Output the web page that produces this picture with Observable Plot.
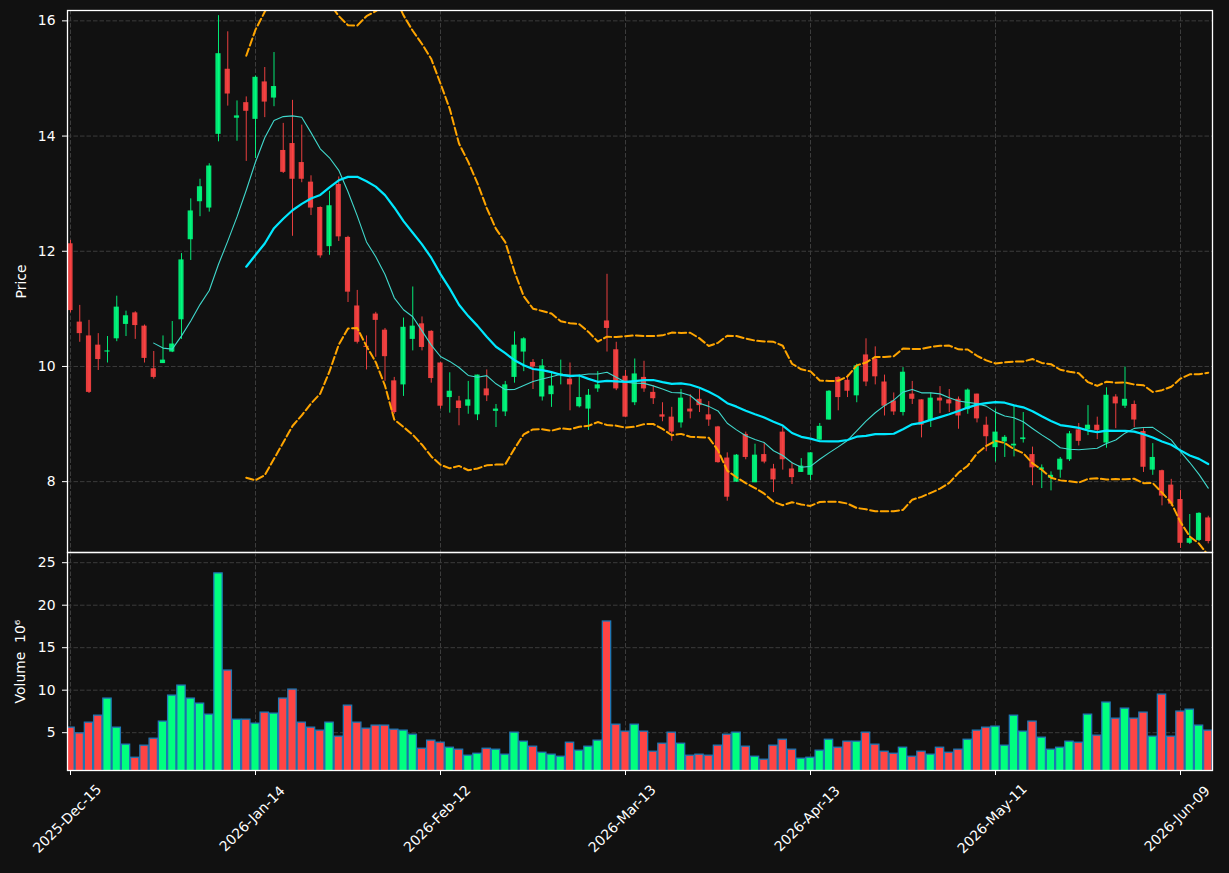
<!DOCTYPE html>
<html>
<head>
<meta charset="utf-8">
<script src="https://cdn.jsdelivr.net/npm/d3@7"></script>
<script src="https://cdn.jsdelivr.net/npm/@observablehq/plot@0.6"></script>
<style>
  html, body { margin: 0; padding: 0; background: #111111; }
  #chart { position: relative; width: 1229px; height: 873px; background: #111111; overflow: hidden; }
  #chart svg { display: block; }
  #chart text { white-space: pre; }
</style>
</head>
<body>
<div id="chart"></div>
<script>
// ---------------- data ----------------
const tickIndex = [0, 20, 40, 60, 80, 100, 120];
const tickLabels = ["2025-Dec-15", "2026-Jan-14", "2026-Feb-12", "2026-Mar-13", "2026-Apr-13", "2026-May-11", "2026-Jun-09"];
const priceTicks = [8, 10, 12, 14, 16];
const volumeTicks = [5, 10, 15, 20, 25];

const open = [12.13,10.77,10.53,10.37,10.25,10.48,10.73,10.93,10.70,9.96,
  10.05,10.25,10.81,12.20,12.86,12.75,14.03,15.16,14.31,14.58,
  14.29,14.94,14.66,13.75,13.87,13.54,13.20,12.76,12.08,13.16,
  12.24,11.05,10.35,10.91,10.63,9.75,9.68,10.47,10.74,10.61,
  10.06,9.46,9.40,9.31,9.16,9.61,9.22,9.21,9.81,10.25,
  10.07,9.47,9.51,9.85,9.78,9.30,9.26,9.61,10.79,10.29,
  9.83,9.37,9.81,9.55,9.16,9.12,9.02,9.26,9.43,9.16,
  8.95,8.41,7.99,8.82,7.98,8.47,8.22,8.86,8.22,8.16,
  8.11,8.72,9.07,9.81,9.76,9.49,10.20,10.13,9.73,9.40,
  9.20,9.52,9.42,9.06,9.45,9.42,9.43,9.25,9.52,8.98,
  8.59,8.69,8.62,8.73,8.47,8.20,8.06,8.20,8.38,8.90,
  8.90,8.98,8.67,9.47,9.31,9.34,8.87,8.20,8.19,7.94,
  7.69,6.93,6.98,7.37];
const high = [12.19,11.06,10.80,10.57,10.52,11.22,10.96,10.95,10.72,10.26,
  10.53,10.78,11.96,12.91,13.25,13.52,16.09,15.81,14.61,14.68,
  15.04,15.19,15.45,14.22,14.62,14.19,13.31,12.77,13.04,13.29,
  12.26,11.32,10.53,10.94,10.66,9.81,10.84,11.38,10.86,10.62,
  10.07,9.89,9.48,9.74,9.85,9.94,9.34,9.74,10.60,10.50,
  10.12,10.12,9.88,10.11,10.06,9.85,9.60,9.91,11.60,10.42,
  9.93,10.13,10.09,9.66,9.37,9.29,9.60,9.51,9.60,9.39,
  8.96,8.50,8.47,8.86,8.65,8.67,8.30,8.95,8.33,8.40,
  8.50,9.01,9.58,9.82,9.85,10.04,10.48,10.34,9.85,9.54,
  9.98,9.74,9.42,9.54,9.65,9.60,9.47,9.61,9.52,9.12,
  9.26,8.80,9.31,9.20,8.60,8.29,8.17,8.42,8.87,9.01,
  9.32,9.12,9.63,9.51,9.99,9.40,8.92,8.66,8.20,8.04,
  7.85,7.43,7.46,7.40];
const low = [10.93,10.42,9.53,9.93,10.06,10.43,10.52,10.47,10.06,9.78,
  10.05,10.24,10.47,11.84,12.60,12.68,13.90,14.52,13.91,13.56,
  13.61,14.32,14.51,13.35,12.26,13.19,12.62,11.88,11.93,12.17,
  11.11,10.39,9.94,10.16,9.74,9.17,9.48,10.27,10.27,9.71,
  9.26,9.19,8.97,9.17,9.06,9.39,8.94,9.13,9.71,9.91,
  9.60,9.40,9.29,9.68,9.23,9.28,8.89,9.55,10.25,9.58,
  9.12,9.32,9.55,9.34,9.04,8.70,8.93,9.09,9.20,8.96,
  8.32,7.66,7.99,8.38,7.98,8.31,7.81,8.20,7.95,8.16,
  8.02,8.72,9.07,9.23,9.46,9.37,9.65,9.68,9.14,9.15,
  9.14,9.34,8.76,8.94,9.18,9.20,8.91,9.17,9.02,8.52,
  8.34,8.42,8.43,8.67,7.93,7.88,7.84,8.06,8.35,8.62,
  8.80,8.73,8.58,8.92,9.27,8.94,8.16,8.11,7.58,7.57,
  6.84,6.91,6.96,6.92];
const close = [10.97,10.57,9.55,10.12,10.27,11.03,10.88,10.71,10.14,9.81,
  10.11,10.39,11.85,12.70,13.12,13.48,15.43,14.73,14.35,14.43,
  15.02,14.59,14.86,13.37,13.25,13.25,12.75,11.92,12.79,12.25,
  11.29,10.42,10.33,10.80,10.17,9.20,10.68,10.70,10.33,9.79,
  9.31,9.57,9.27,9.42,9.85,9.49,9.26,9.68,10.37,10.48,
  9.99,10.01,9.66,9.87,9.68,9.46,9.50,9.68,10.66,9.61,
  9.12,9.87,9.61,9.44,9.12,8.86,9.45,9.21,9.32,9.07,
  8.33,7.73,8.46,8.42,8.46,8.34,8.03,8.38,8.07,8.27,
  8.50,8.96,9.57,9.46,9.57,10.01,9.73,9.82,9.31,9.21,
  9.90,9.43,8.98,9.45,9.40,9.35,9.14,9.59,9.09,8.78,
  8.86,8.77,8.65,8.76,8.24,8.24,8.11,8.39,8.83,8.70,
  8.98,8.89,9.50,9.35,9.43,9.07,8.25,8.42,7.75,7.61,
  6.93,7.01,7.45,6.96];
const volume = [5.59,4.92,6.18,7.00,9.01,5.59,3.59,2.05,3.47,4.29,
  6.30,9.36,10.54,9.01,8.42,7.12,23.74,12.31,6.53,6.53,
  6.06,7.36,7.24,9.01,10.07,6.18,5.59,5.24,6.18,4.53,
  8.18,6.18,5.47,5.83,5.83,5.35,5.24,4.76,3.11,4.06,
  3.82,3.23,3.00,2.29,2.52,3.11,3.00,2.41,5.00,3.94,
  3.35,2.64,2.41,2.17,3.82,2.88,3.35,4.06,18.08,5.94,
  5.12,5.94,5.12,2.76,3.70,5.00,3.70,2.29,2.41,2.29,
  3.47,4.76,5.00,3.35,2.17,1.82,3.47,4.17,3.00,1.94,
  2.05,2.88,4.17,3.23,3.94,3.94,5.00,3.59,2.76,2.52,
  3.23,2.17,2.76,2.41,3.23,2.64,3.00,4.17,5.24,5.59,
  5.71,3.47,7.00,5.12,6.30,4.41,3.00,3.23,3.94,3.82,
  7.12,4.65,8.54,6.65,7.83,6.65,7.36,4.53,9.48,4.53,
  7.48,7.71,5.83,5.24];

// ---------------- derived tables ----------------
const UP = "#00ff7f", DOWN = "#ff4444";
const bars = open.map((o, i) => ({
  i, o, h: high[i], l: low[i], c: close[i], v: volume[i], up: close[i] >= o
}));

function rolling(k) {
  const out = [];
  for (let i = k - 1; i < close.length; i++) {
    const w = close.slice(i - k + 1, i + 1);
    const m = d3.mean(w);
    const sd = Math.sqrt(d3.mean(w, v => (v - m) ** 2));
    out.push({i, mean: m, upper: m + 2 * sd, lower: m - 2 * sd});
  }
  return out;
}
const ma10 = rolling(10);
const ma20 = rolling(20);

const W = 1229, ML = 67, MR = 17;
const xDomain = [(ML - 70) / 9.25, (W - MR - 70) / 9.25];
const FONT = "DejaVu Sans, sans-serif";
const GRID = {stroke: "#3c3c3c", strokeOpacity: 1, strokeWidth: 1, strokeDasharray: "4.5,2"};
const baseStyle = {background: "#111111", color: "white", fontFamily: FONT, fontSize: "13.9px", overflow: "visible"};

// ---------------- price panel ----------------
const price = Plot.plot({
  width: W, height: 552,
  marginLeft: ML, marginRight: MR, marginTop: 10, marginBottom: 0,
  style: baseStyle,
  color: {type: "identity"},
  x: {domain: xDomain, axis: null},
  y: {domain: [6.77, 16.18], axis: null},
  marks: [
    Plot.gridY(priceTicks, GRID),
    Plot.gridX(tickIndex, GRID),
    Plot.ruleX(bars, {x: "i", y1: "l", y2: "h", stroke: d => d.up ? UP : DOWN, strokeOpacity: 0.9, strokeWidth: 1, clip: true}),
    Plot.rect(bars, {
      x1: d => d.i - 0.28, x2: d => d.i + 0.28,
      y1: d => Math.min(d.o, d.c),
      y2: d => Math.max(Math.max(d.o, d.c), Math.min(d.o, d.c) + 0.02),
      fill: d => d.up ? UP : DOWN, fillOpacity: 0.9, clip: true
    }),
    Plot.line(ma20, {x: "i", y: "upper", stroke: "#ffa500", strokeWidth: 2, strokeDasharray: "7.5,3.3", clip: true}),
    Plot.line(ma20, {x: "i", y: "lower", stroke: "#ffa500", strokeWidth: 2, strokeDasharray: "7.5,3.3", clip: true}),
    Plot.line(ma10, {x: "i", y: "mean", stroke: "#40d8cc", strokeWidth: 1.1, clip: true}),
    Plot.line(ma20, {x: "i", y: "mean", stroke: "#00e8ff", strokeWidth: 2.2, clip: true}),
    Plot.axisY(priceTicks, {tickSize: 5, tickPadding: 7, stroke: "white", fill: "white", label: null, fontSize: 13.9, tickFormat: d => String(d)}),
    Plot.frame({stroke: "white", strokeWidth: 1.3}),
    Plot.text(["Price"], {text: d => d, frameAnchor: "left", textAnchor: "middle", dx: -46, rotate: -90, fill: "white", fontSize: 13.9})
  ]
});

// ---------------- volume panel ----------------
const vol = Plot.plot({
  width: W, height: 321,
  marginLeft: ML, marginRight: MR, marginTop: 0, marginBottom: 103,
  style: baseStyle,
  color: {type: "identity"},
  x: {domain: xDomain, axis: null},
  y: {domain: [0.55, 26.2], axis: null},
  marks: [
    Plot.gridY(volumeTicks, GRID),
    Plot.gridX(tickIndex, GRID),
    Plot.rect(bars, {
      x1: d => d.i - 0.45, x2: d => d.i + 0.45,
      y1: () => 0, y2: "v",
      fill: d => d.up ? UP : DOWN, stroke: "#1f77b4", strokeWidth: 1.3, clip: true
    }),
    Plot.axisY(volumeTicks, {tickSize: 5, tickPadding: 7, stroke: "white", fill: "white", label: null, fontSize: 13.9, tickFormat: d => String(d)}),
    Plot.axisX(tickIndex, {tickSize: 5, stroke: "white", tickFormat: () => "", label: null}),
    Plot.text(tickIndex, {
      x: d => d, text: (d, i) => tickLabels[i],
      frameAnchor: "bottom", dy: 51.5, rotate: -45, textAnchor: "middle",
      fill: "white", fontSize: 13.9
    }),
    Plot.frame({stroke: "white", strokeWidth: 1.3}),
    Plot.text(["Volume  10\u2076"], {text: d => d, frameAnchor: "left", textAnchor: "middle", dx: -47, rotate: -90, fill: "white", fontSize: 13.9})
  ]
});

const chart = document.getElementById("chart");
chart.appendChild(price);
chart.appendChild(vol);
</script>
</body>
</html>
